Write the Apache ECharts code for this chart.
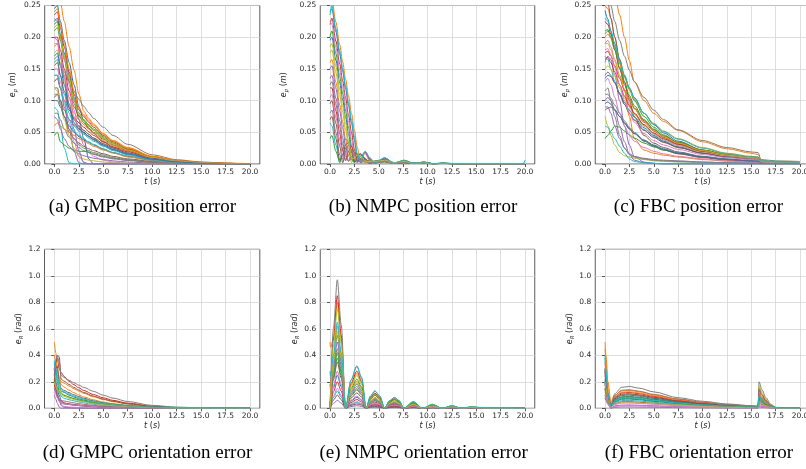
<!DOCTYPE html>
<html><head><meta charset="utf-8">
<script src="https://cdn.jsdelivr.net/npm/echarts@6/dist/echarts.min.js"></script>
<style>html,body{margin:0;padding:0;background:#fff}#c{width:806px;height:469px}</style>
</head><body><div id="c"></div><script>
const palette = ['#1f77b4','#ff7f0e','#2ca02c','#d62728','#9467bd','#8c564b','#e377c2','#7f7f7f','#bcbd22','#17becf'];
const xTickValues = [0,2.5,5,7.5,10,12.5,15,17.5,20];
const captions = ['(a) GMPC position error','(b) NMPC position error','(c) FBC position error','(d) GMPC orientation error','(e) NMPC orientation error','(f) FBC orientation error'];

// (a) GMPC position error
const tGmpcPos = [0,0.3,0.6,1,1.5,2,2.5,3,3.5,4,5,6,7.5,10,12.5,15,17.5,20];
const gmpcPosLines = [
[0.245,0.25,0.225,0.195,0.16,0.125,0.09,0.068,0.056,0.048,0.035,0.026,0.017,0.007,0.003,0.0012,0.0005,0.0001],
[0.27,0.275,0.255,0.225,0.185,0.148,0.11,0.083,0.072,0.063,0.048,0.037,0.026,0.012,0.0055,0.0025,0.001,0.0003],
[0.21,0.215,0.195,0.165,0.13,0.095,0.075,0.065,0.057,0.05,0.039,0.03,0.021,0.01,0.0045,0.002,0.0008,0.0002],
[0.2,0.2,0.18,0.15,0.115,0.09,0.076,0.068,0.06,0.053,0.041,0.032,0.022,0.0105,0.0048,0.0022,0.0009,0.0003],
[0.14,0.14,0.12,0.09,0.055,0.02,0.002,0,0,0,0,0,0,0,0,0,0,0],
[0.105,0.11,0.1,0.085,0.07,0.062,0.055,0.049,0.043,0.038,0.029,0.022,0.015,0.007,0.003,0.0014,0.0005,0.0001],
[0.23,0.225,0.2,0.165,0.125,0.085,0.05,0.03,0.018,0.012,0.006,0.003,0.001,0,0,0,0,0],
[0.165,0.17,0.158,0.145,0.13,0.115,0.102,0.091,0.081,0.072,0.058,0.045,0.031,0.0145,0.0068,0.0032,0.0014,0.0005],
[0.175,0.18,0.16,0.13,0.095,0.07,0.06,0.053,0.047,0.041,0.032,0.025,0.017,0.008,0.0036,0.0016,0.0006,0.0002],
[0.09,0.085,0.06,0.025,0.002,0,0,0,0,0,0,0,0,0,0,0,0,0],
[0.225,0.23,0.205,0.175,0.14,0.105,0.07,0.04,0.008,0,0,0,0,0,0,0,0,0],
[0.185,0.19,0.17,0.14,0.105,0.08,0.07,0.062,0.055,0.048,0.037,0.029,0.02,0.0095,0.0043,0.002,0.0008,0.0002],
[0.045,0.05,0.035,0.03,0.025,0.022,0.02,0.02,0.019,0.016,0.012,0.009,0.006,0.003,0.0013,0.0006,0.0002,0],
[0.13,0.135,0.12,0.1,0.085,0.073,0.065,0.058,0.051,0.045,0.035,0.027,0.019,0.009,0.004,0.0018,0.0007,0.0002],
[0.075,0.07,0.055,0.04,0.028,0.02,0.016,0.013,0.011,0.009,0.007,0.005,0.003,0.0015,0.0006,0.0002,0,0],
[0.12,0.12,0.1,0.075,0.05,0.04,0.033,0.028,0.024,0.021,0.016,0.012,0.008,0.004,0.0018,0.0008,0.0003,0],
[0.15,0.15,0.13,0.1,0.065,0.035,0.012,0.003,0,0,0,0,0,0,0,0,0,0],
[0.08,0.08,0.07,0.055,0.042,0.033,0.026,0.021,0.018,0.015,0.011,0.008,0.0055,0.0025,0.001,0.0004,0.0001,0],
[0.12,0.115,0.095,0.07,0.045,0.025,0.012,0.008,0.006,0.005,0.003,0.002,0.001,0,0,0,0,0],
[0.16,0.165,0.14,0.11,0.08,0.06,0.052,0.047,0.041,0.036,0.028,0.021,0.015,0.007,0.0031,0.0014,0.0005,0.0001],
[0.1,0.1,0.09,0.075,0.06,0.05,0.043,0.038,0.034,0.03,0.023,0.018,0.012,0.0055,0.0025,0.0011,0.0004,0.0001],
[0.06,0.065,0.06,0.055,0.05,0.045,0.04,0.036,0.032,0.028,0.022,0.017,0.011,0.005,0.0022,0.001,0.0004,0.0001],
[0.22,0.225,0.2,0.17,0.135,0.1,0.08,0.07,0.062,0.055,0.043,0.033,0.023,0.011,0.005,0.0022,0.0009,0.0002],
[0.235,0.24,0.215,0.185,0.145,0.11,0.085,0.075,0.066,0.058,0.045,0.035,0.024,0.0115,0.0052,0.0024,0.001,0.0003],
[0.2,0.195,0.17,0.135,0.095,0.055,0.02,0.002,0,0,0,0,0,0,0,0,0,0],
[0.155,0.16,0.14,0.115,0.088,0.07,0.06,0.053,0.047,0.041,0.032,0.025,0.017,0.008,0.0036,0.0016,0.0006,0.0002],
[0.19,0.19,0.17,0.14,0.105,0.075,0.058,0.05,0.044,0.039,0.03,0.023,0.016,0.0075,0.0034,0.0015,0.0006,0.0002],
[0.11,0.11,0.095,0.075,0.055,0.04,0.03,0.025,0.021,0.018,0.014,0.01,0.007,0.0032,0.0014,0.0006,0.0002,0],
[0.215,0.22,0.2,0.17,0.135,0.1,0.078,0.068,0.06,0.053,0.041,0.032,0.022,0.0105,0.0048,0.0022,0.0009,0.0003],
[0.14,0.14,0.12,0.095,0.07,0.052,0.045,0.04,0.035,0.031,0.024,0.018,0.013,0.006,0.0027,0.0012,0.0005,0.0001],
[0.17,0.175,0.155,0.125,0.09,0.065,0.056,0.05,0.044,0.039,0.03,0.023,0.016,0.0075,0.0034,0.0015,0.0006,0.0002],
[0.24,0.245,0.22,0.19,0.15,0.115,0.088,0.078,0.069,0.061,0.047,0.036,0.025,0.012,0.0054,0.0025,0.001,0.0003]
];

// (b) NMPC position error
const tNmpcPos = [0,0.2,0.6,1,1.3,1.6,1.9,2.2,2.5,2.8,3.1,3.6,4.1,4.6,5.6,6.6,7.6,8.6,9.6,10.6,11.6,13,15,17.5,19.8,20];
const nmpcPosLines = [
[0.24,0.245,0.209,0.173,0.146,0.119,0.092,0.065,0.038,0.011,0.006,0.019,0.008,0.001,0.009,0.001,0.005,0.001,0.003,0.0005,0.0012,0.0004,0.0003,0.0002,0.0002,0.0002],
[0.25,0.26,0.224,0.188,0.161,0.134,0.107,0.08,0.053,0.026,0.002,0.02,0.01,0.001,0.01,0.001,0.006,0.001,0.003,0.0005,0.0015,0.0005,0.0004,0.0003,0.0002,0.0002],
[0.2,0.21,0.174,0.138,0.111,0.084,0.057,0.03,0.003,0.012,0.016,0.009,0.001,0.004,0.007,0.002,0.005,0.001,0.002,0.0005,0.001,0.0003,0.0002,0.0002,0.0001,0.0001],
[0.22,0.23,0.194,0.158,0.131,0.104,0.077,0.05,0.023,0.002,0.012,0.018,0.006,0.001,0.009,0.001,0.005,0.001,0.003,0.0005,0.0012,0.0004,0.0003,0.0002,0.0001,0.0001],
[0.135,0.14,0.104,0.068,0.041,0.014,0.004,0.012,0.013,0.008,0.002,0.004,0.005,0.002,0.004,0.002,0.003,0.001,0.002,0.0005,0.001,0.0003,0.0002,0.0001,0.0001,0.0001],
[0.095,0.1,0.064,0.028,0.002,0.02,0.03,0.022,0.006,0.003,0.008,0.007,0.002,0.003,0.004,0.001,0.003,0.001,0.002,0.0004,0.001,0.0003,0.0002,0.0001,0.0001,0.0001],
[0.225,0.22,0.184,0.148,0.121,0.094,0.067,0.04,0.013,0.005,0.015,0.016,0.004,0.002,0.008,0.001,0.005,0.001,0.002,0.0005,0.001,0.0003,0.0002,0.0001,0.0001,0.0001],
[0.08,0.085,0.05,0.014,0.008,0.025,0.03,0.02,0.005,0.004,0.008,0.006,0.001,0.003,0.004,0.001,0.002,0.001,0.001,0.0003,0.0008,0.0002,0.0001,0.0001,0.0001,0.0001],
[0.175,0.18,0.144,0.108,0.081,0.054,0.027,0.002,0.012,0.016,0.01,0.003,0.005,0.004,0.005,0.002,0.004,0.001,0.002,0.0004,0.001,0.0003,0.0002,0.0001,0.0001,0.0001],
[0.065,0.06,0.03,0.002,0.025,0.04,0.035,0.015,0.002,0.008,0.012,0.006,0.001,0.004,0.004,0.001,0.003,0.001,0.002,0.0004,0.001,0.0003,0.0002,0.0002,0,0.006],
[0.195,0.2,0.164,0.128,0.101,0.074,0.047,0.02,0.003,0.014,0.016,0.008,0.001,0.005,0.007,0.002,0.005,0.001,0.002,0.0005,0.001,0.0003,0.0002,0.0002,0.0001,0.0001],
[0.16,0.165,0.129,0.093,0.066,0.039,0.012,0.006,0.014,0.015,0.008,0.002,0.005,0.004,0.006,0.002,0.004,0.001,0.002,0.0004,0.001,0.0003,0.0002,0.0001,0.0001,0.0001],
[0.04,0.045,0.02,0.003,0.015,0.025,0.02,0.008,0.002,0.006,0.008,0.004,0.001,0.003,0.003,0.001,0.002,0.001,0.001,0.0003,0.0007,0.0002,0.0001,0.0001,0.0001,0.0001],
[0.12,0.12,0.084,0.048,0.021,0.005,0.02,0.028,0.018,0.004,0.006,0.008,0.002,0.003,0.005,0.001,0.003,0.001,0.002,0.0004,0.001,0.0003,0.0002,0.0001,0.0001,0.0001],
[0.15,0.155,0.119,0.083,0.056,0.029,0.004,0.012,0.016,0.011,0.003,0.006,0.005,0.002,0.005,0.002,0.003,0.001,0.002,0.0004,0.001,0.0003,0.0002,0.0001,0.0001,0.0001],
[0.07,0.075,0.04,0.006,0.015,0.03,0.034,0.022,0.006,0.003,0.007,0.006,0.002,0.003,0.004,0.001,0.002,0.001,0.001,0.0003,0.0008,0.0002,0.0001,0.0001,0.0001,0.0001],
[0.105,0.11,0.074,0.038,0.011,0.012,0.025,0.022,0.01,0.002,0.006,0.006,0.002,0.003,0.004,0.001,0.003,0.001,0.002,0.0004,0.001,0.0003,0.0002,0.0001,0.0001,0.0001],
[0.125,0.13,0.094,0.058,0.031,0.006,0.014,0.02,0.014,0.004,0.004,0.007,0.003,0.002,0.004,0.002,0.003,0.001,0.002,0.0004,0.001,0.0003,0.0002,0.0001,0.0001,0.0001],
[0.185,0.19,0.154,0.118,0.091,0.064,0.037,0.01,0.008,0.015,0.013,0.004,0.004,0.004,0.006,0.002,0.004,0.001,0.002,0.0004,0.001,0.0003,0.0002,0.0001,0.0001,0.0001],
[0.235,0.25,0.214,0.178,0.151,0.124,0.097,0.07,0.043,0.016,0.004,0.02,0.009,0.001,0.01,0.001,0.006,0.001,0.003,0.0005,0.0015,0.0004,0.0003,0.0002,0.0001,0.0001]
];

// (c) FBC position error
const tFbcPos = [0,0.3,0.6,1,1.5,2,2.5,3,4,5,6,7.5,10,12.5,15,15.7,16,17.5,20];
const fbcPosLines = [
[0.242,0.228,0.21,0.185,0.16,0.138,0.12,0.105,0.08,0.062,0.049,0.036,0.022,0.014,0.009,0.0085,0.004,0.003,0.002],
[0.32,0.31,0.295,0.27,0.235,0.2,0.163,0.13,0.1,0.08,0.067,0.053,0.035,0.024,0.017,0.015,0.006,0.004,0.003],
[0.205,0.21,0.205,0.19,0.165,0.14,0.118,0.1,0.075,0.058,0.046,0.034,0.021,0.014,0.01,0.009,0.004,0.003,0.002],
[0.225,0.22,0.205,0.18,0.15,0.125,0.104,0.088,0.066,0.052,0.042,0.032,0.02,0.013,0.009,0.008,0.004,0.003,0.002],
[0.16,0.17,0.165,0.14,0.1,0.06,0.03,0.012,0.003,0.001,0,0,0,0,0,0,0,0,0],
[0.085,0.088,0.09,0.085,0.075,0.065,0.056,0.048,0.036,0.028,0.022,0.016,0.01,0.006,0.004,0.0035,0.002,0.0015,0.001],
[0.19,0.195,0.185,0.165,0.14,0.115,0.095,0.08,0.06,0.047,0.038,0.029,0.018,0.012,0.008,0.0075,0.0035,0.0025,0.0015],
[0.27,0.265,0.25,0.225,0.195,0.17,0.148,0.13,0.105,0.085,0.07,0.054,0.037,0.026,0.019,0.018,0.007,0.005,0.004],
[0.075,0.06,0.045,0.03,0.018,0.013,0.011,0.009,0.007,0.005,0.004,0.003,0.002,0.001,0.0007,0.0006,0.0003,0.0002,0.0001],
[0.17,0.165,0.15,0.13,0.11,0.094,0.08,0.07,0.054,0.043,0.035,0.026,0.017,0.011,0.0075,0.007,0.003,0.002,0.0015],
[0.135,0.14,0.138,0.128,0.112,0.097,0.085,0.074,0.057,0.045,0.036,0.027,0.017,0.011,0.0075,0.007,0.003,0.002,0.0015],
[0.25,0.245,0.23,0.2,0.16,0.115,0.075,0.04,0.022,0.017,0.014,0.011,0.007,0.0045,0.003,0.003,0.0015,0.001,0.0008],
[0.04,0.045,0.052,0.06,0.058,0.052,0.046,0.041,0.033,0.027,0.022,0.017,0.011,0.0075,0.005,0.0047,0.0025,0.0018,0.0012],
[0.175,0.178,0.17,0.155,0.135,0.117,0.101,0.088,0.068,0.054,0.044,0.034,0.022,0.015,0.011,0.01,0.004,0.003,0.002],
[0.1,0.105,0.1,0.085,0.06,0.035,0.015,0.006,0.002,0.001,0,0,0,0,0,0,0,0,0],
[0.28,0.255,0.23,0.2,0.165,0.13,0.1,0.075,0.045,0.033,0.026,0.019,0.012,0.008,0.005,0.0048,0.0025,0.0018,0.0012],
[0.13,0.135,0.125,0.105,0.08,0.06,0.045,0.036,0.026,0.02,0.016,0.012,0.008,0.005,0.0035,0.0033,0.0017,0.0012,0.0008],
[0.11,0.11,0.104,0.093,0.08,0.068,0.058,0.05,0.038,0.03,0.024,0.018,0.011,0.007,0.005,0.0047,0.0025,0.0018,0.0012],
[0.15,0.155,0.15,0.138,0.12,0.104,0.09,0.078,0.06,0.048,0.039,0.03,0.019,0.013,0.009,0.0085,0.0038,0.0028,0.0018],
[0.06,0.058,0.05,0.04,0.028,0.017,0.008,0.004,0.002,0.001,0,0,0,0,0,0,0,0,0],
[0.095,0.098,0.094,0.086,0.075,0.064,0.055,0.048,0.037,0.029,0.023,0.017,0.011,0.007,0.0048,0.0045,0.0022,0.0016,0.0011],
[0.2,0.205,0.198,0.182,0.158,0.136,0.117,0.102,0.08,0.064,0.052,0.04,0.026,0.017,0.012,0.011,0.0045,0.0033,0.0022],
[0.21,0.212,0.2,0.18,0.152,0.128,0.108,0.092,0.07,0.055,0.044,0.034,0.022,0.015,0.011,0.0105,0.0045,0.0033,0.0022],
[0.165,0.168,0.16,0.145,0.125,0.107,0.092,0.08,0.062,0.049,0.04,0.031,0.02,0.014,0.01,0.0095,0.004,0.003,0.002],
[0.09,0.09,0.08,0.06,0.04,0.025,0.016,0.012,0.009,0.007,0.006,0.005,0.003,0.002,0.0015,0.0014,0.0008,0.0006,0.0004],
[0.14,0.145,0.14,0.128,0.11,0.094,0.08,0.069,0.053,0.042,0.034,0.026,0.017,0.011,0.0075,0.007,0.003,0.002,0.0015],
[0.18,0.182,0.172,0.152,0.125,0.1,0.08,0.066,0.048,0.037,0.03,0.023,0.015,0.01,0.007,0.0066,0.003,0.002,0.0014],
[0.115,0.12,0.1,0.075,0.045,0.025,0.015,0.011,0.008,0.006,0.005,0.004,0.003,0.002,0.0014,0.0013,0.0007,0.0005,0.0003],
[0.19,0.19,0.18,0.162,0.138,0.118,0.101,0.087,0.067,0.053,0.043,0.033,0.021,0.014,0.01,0.0095,0.004,0.003,0.002],
[0.23,0.225,0.21,0.19,0.163,0.14,0.12,0.104,0.08,0.063,0.051,0.039,0.025,0.016,0.011,0.0105,0.0045,0.0033,0.0022]
];

// (d) GMPC orientation error
const tGmpcOri = [0,0.15,0.3,0.5,0.7,1,1.5,2,2.5,3,4,5,6,7.5,10,12.5,15,20];
const gmpcOriLines = [
[0.35,0.3,0.22,0.15,0.13,0.12,0.1,0.085,0.072,0.062,0.045,0.033,0.024,0.015,0.006,0.0025,0.001,0],
[0.5,0.42,0.3,0.24,0.2,0.19,0.168,0.148,0.13,0.114,0.087,0.066,0.05,0.032,0.013,0.0053,0.0021,0.0002],
[0.2,0.15,0.1,0.06,0.04,0.032,0.028,0.024,0.02,0.017,0.012,0.009,0.0065,0.004,0.0017,0.0007,0.0003,0],
[0.3,0.35,0.38,0.3,0.27,0.24,0.205,0.178,0.155,0.135,0.104,0.079,0.06,0.039,0.016,0.0065,0.0026,0.0003],
[0.1,0.07,0.04,0.01,0,0,0,0,0,0,0,0,0,0,0,0,0,0],
[0.25,0.35,0.4,0.39,0.22,0.205,0.18,0.158,0.138,0.12,0.092,0.07,0.053,0.034,0.014,0.0057,0.0023,0.0002],
[0.15,0.12,0.09,0.06,0.03,0.015,0.01,0.008,0.006,0.005,0.003,0.002,0.001,0,0,0,0,0],
[0.28,0.36,0.4,0.35,0.25,0.232,0.212,0.193,0.175,0.158,0.128,0.099,0.077,0.051,0.022,0.009,0.0037,0.0005],
[0.3,0.25,0.2,0.16,0.12,0.1,0.085,0.073,0.062,0.053,0.039,0.029,0.021,0.013,0.005,0.002,0.0008,0],
[0.33,0.28,0.2,0.12,0.09,0.075,0.065,0.056,0.048,0.041,0.03,0.022,0.016,0.01,0.004,0.0016,0.0006,0],
[0.22,0.18,0.14,0.1,0.06,0.04,0.03,0.025,0.021,0.018,0.013,0.01,0.007,0.0045,0.0018,0.0007,0.0003,0],
[0.4,0.35,0.28,0.22,0.18,0.16,0.138,0.118,0.1,0.086,0.064,0.047,0.035,0.022,0.009,0.0035,0.0014,0.0001],
[0.25,0.2,0.16,0.13,0.11,0.098,0.085,0.073,0.063,0.054,0.04,0.03,0.022,0.014,0.0055,0.0022,0.0009,0.0001],
[0.18,0.14,0.1,0.07,0.05,0.04,0.034,0.029,0.025,0.021,0.015,0.011,0.008,0.005,0.002,0.0008,0.0003,0],
[0.3,0.2,0.12,0.06,0.02,0.008,0.004,0.002,0.001,0,0,0,0,0,0,0,0,0],
[0.2,0.3,0.32,0.2,0.15,0.135,0.118,0.102,0.088,0.076,0.056,0.042,0.031,0.02,0.008,0.003,0.0012,0.0001],
[0.12,0.1,0.08,0.05,0.04,0.035,0.03,0.026,0.022,0.019,0.014,0.01,0.0075,0.0047,0.0019,0.0008,0.0003,0],
[0.15,0.12,0.09,0.07,0.06,0.055,0.048,0.041,0.035,0.03,0.022,0.016,0.012,0.0075,0.003,0.0012,0.0005,0],
[0.2,0.17,0.14,0.12,0.1,0.09,0.077,0.066,0.057,0.049,0.036,0.027,0.02,0.0125,0.005,0.002,0.0008,0],
[0.36,0.3,0.25,0.18,0.14,0.125,0.108,0.093,0.08,0.069,0.051,0.038,0.028,0.018,0.007,0.0028,0.0011,0.0001]
];

// (e) NMPC orientation error
const tNmpcOri = [0,0.05,0.35,0.75,1.15,1.6,2.15,2.75,3.25,3.7,4.15,4.6,5.1,5.6,6.1,6.6,7.1,7.55,8.55,9.5,10.5,11.5,12.5,13.5,14.5,16,20];
const nmpcOriLines = [
[0.18,0.15,0.341,0.55,0.358,0,0.121,0.182,0.132,0,0.052,0.074,0.052,0,0.033,0.047,0.033,0,0.028,0,0.017,0,0.011,0,0.006,0.001,0],
[0.5,0.46,0.52,0.8,0.52,0,0.176,0.264,0.192,0,0.076,0.108,0.076,0,0.048,0.068,0.048,0,0.04,0,0.024,0,0.016,0,0.009,0.002,0],
[0.05,0,0.26,0.42,0.273,0,0.092,0.139,0.101,0,0.04,0.057,0.04,0,0.025,0.036,0.025,0,0.021,0,0.013,0,0.008,0,0.005,0.001,0],
[0,0,0.527,0.85,0.553,0,0.187,0.281,0.204,0,0.081,0.115,0.081,0,0.051,0.072,0.051,0,0.043,0,0.026,0,0.017,0,0.009,0.002,0],
[0,0,0.037,0.06,0.039,0,0.013,0.02,0.014,0,0.006,0.008,0.006,0,0.004,0.005,0.004,0,0.003,0,0.002,0,0.001,0,0.001,0,0],
[0,0,0.217,0.35,0.228,0,0.077,0.116,0.084,0,0.033,0.047,0.033,0,0.021,0.03,0.021,0,0.018,0,0.011,0,0.007,0,0.004,0.001,0],
[0,0,0.093,0.15,0.098,0,0.033,0.05,0.036,0,0.014,0.02,0.014,0,0.009,0.013,0.009,0,0.008,0,0.005,0,0.003,0,0.002,0,0],
[0,0,0.601,0.97,0.631,0,0.213,0.32,0.233,0,0.092,0.131,0.092,0,0.058,0.082,0.058,0,0.049,0,0.029,0,0.019,0,0.011,0.002,0],
[0,0,0.465,0.75,0.488,0,0.165,0.248,0.18,0,0.071,0.101,0.071,0,0.045,0.064,0.045,0,0.038,0,0.023,0,0.015,0,0.008,0.002,0],
[0,0,0.081,0.13,0.085,0,0.029,0.043,0.031,0,0.012,0.018,0.012,0,0.008,0.011,0.008,0,0.007,0,0.004,0,0.003,0,0.001,0,0],
[0,0,0.155,0.25,0.163,0,0.055,0.083,0.06,0,0.024,0.034,0.024,0,0.015,0.021,0.015,0,0.013,0,0.008,0,0.005,0,0.003,0,0],
[0,0,0.384,0.62,0.403,0,0.136,0.205,0.149,0,0.059,0.084,0.059,0,0.037,0.053,0.037,0,0.031,0,0.019,0,0.012,0,0.007,0.001,0],
[0,0,0.236,0.38,0.247,0,0.15,0.22,0.16,0,0.07,0.1,0.07,0,0.045,0.065,0.045,0,0.04,0,0.024,0,0.015,0,0.008,0.002,0],
[0,0,0.124,0.2,0.13,0,0.044,0.066,0.048,0,0.019,0.027,0.019,0,0.012,0.017,0.012,0,0.01,0,0.006,0,0.004,0,0.002,0,0],
[0,0,0.31,0.5,0.325,0,0.11,0.165,0.12,0,0.048,0.068,0.048,0,0.03,0.043,0.03,0,0.025,0,0.015,0,0.01,0,0.006,0.001,0],
[0,0,0.062,0.1,0.065,0,0.022,0.033,0.024,0,0.01,0.014,0.01,0,0.006,0.009,0.006,0,0.005,0,0.003,0,0.002,0,0.001,0,0],
[0,0,0.174,0.28,0.182,0,0.062,0.092,0.067,0,0.027,0.038,0.027,0,0.017,0.024,0.017,0,0.014,0,0.008,0,0.006,0,0.003,0,0],
[0,0,0.279,0.45,0.293,0,0.099,0.149,0.108,0,0.043,0.061,0.043,0,0.027,0.038,0.027,0,0.023,0,0.014,0,0.009,0,0.005,0.001,0],
[0,0,0.36,0.58,0.377,0,0.128,0.191,0.139,0,0.055,0.078,0.055,0,0.035,0.049,0.035,0,0.029,0,0.017,0,0.012,0,0.006,0.001,0],
[0.28,0.24,0.4,0.65,0.42,0,0.21,0.315,0.225,0,0.092,0.132,0.092,0,0.056,0.082,0.056,0,0.051,0,0.031,0,0.02,0,0.012,0.002,0]
];

// (f) FBC orientation error
const tFbcOri = [0,0.1,0.3,0.6,1,1.7,2.5,3.5,5,7.5,10,12.5,15,15.7,15.8,16.1,16.5,17,17.5,18,20];
const fbcOriLines = [
[0.3,0.2,0.08,0.02,0.048,0.068,0.07,0.064,0.052,0.035,0.023,0.014,0.008,0.007,0.05,0.035,0.02,0.008,0.002,0,0],
[0.5,0.4,0.2,0.05,0.095,0.131,0.135,0.124,0.101,0.068,0.045,0.027,0.016,0.0135,0.12,0.084,0.048,0.018,0.005,0.001,0],
[0.1,0.08,0.04,0.01,0.063,0.087,0.09,0.083,0.068,0.045,0.03,0.018,0.011,0.009,0.08,0.056,0.032,0.012,0.003,0.001,0],
[0.25,0.2,0.1,0.02,0.084,0.116,0.12,0.11,0.09,0.06,0.04,0.024,0.014,0.012,0.1,0.07,0.04,0.015,0.004,0.001,0],
[0.2,0.15,0.05,0,0.018,0.024,0.025,0.023,0.019,0.013,0.008,0.005,0.003,0.0025,0.02,0.014,0.008,0.003,0.001,0,0],
[0.15,0.12,0.05,0.01,0.035,0.049,0.05,0.046,0.038,0.025,0.017,0.01,0.006,0.005,0.04,0.028,0.016,0.006,0.002,0,0],
[0.35,0.25,0.1,0.01,0.028,0.039,0.04,0.037,0.03,0.02,0.013,0.008,0.005,0.004,0.03,0.021,0.012,0.005,0.001,0,0],
[0.2,0.15,0.06,0.03,0.11,0.158,0.165,0.152,0.124,0.08,0.053,0.033,0.02,0.017,0.2,0.14,0.08,0.03,0.008,0.002,0],
[0.12,0.1,0.05,0.015,0.074,0.102,0.105,0.097,0.079,0.053,0.035,0.021,0.013,0.011,0.17,0.12,0.068,0.026,0.007,0.002,0],
[0.4,0.3,0.12,0.02,0.042,0.058,0.06,0.055,0.045,0.03,0.02,0.012,0.007,0.006,0.1,0.07,0.04,0.015,0.004,0.001,0],
[0.22,0.17,0.07,0.015,0.07,0.097,0.1,0.092,0.075,0.05,0.033,0.02,0.012,0.01,0.09,0.063,0.036,0.014,0.004,0.001,0],
[0.45,0.35,0.15,0.03,0.088,0.121,0.125,0.115,0.094,0.063,0.041,0.025,0.015,0.0125,0.11,0.077,0.044,0.017,0.004,0.001,0],
[0.08,0.06,0.03,0.01,0.053,0.073,0.075,0.069,0.056,0.038,0.025,0.015,0.009,0.0075,0.06,0.042,0.024,0.009,0.002,0,0],
[0.28,0.22,0.1,0.02,0.077,0.107,0.11,0.101,0.083,0.055,0.036,0.022,0.013,0.011,0.14,0.098,0.056,0.021,0.006,0.001,0],
[0.15,0.1,0.03,0,0.007,0.01,0.01,0.009,0.008,0.005,0.003,0.002,0.001,0.001,0.01,0.007,0.004,0.002,0,0,0],
[0.18,0.14,0.06,0.015,0.06,0.082,0.085,0.078,0.064,0.043,0.028,0.017,0.01,0.0085,0.07,0.049,0.028,0.011,0.003,0.001,0],
[0.1,0.08,0.03,0,0.014,0.019,0.02,0.018,0.015,0.01,0.007,0.004,0.002,0.002,0.015,0.011,0.006,0.002,0.001,0,0],
[0.3,0.22,0.1,0.02,0.098,0.136,0.14,0.129,0.105,0.07,0.046,0.028,0.017,0.014,0.15,0.105,0.06,0.023,0.006,0.001,0],
[0.2,0.15,0.06,0.01,0.032,0.044,0.045,0.041,0.034,0.023,0.015,0.009,0.005,0.0045,0.05,0.035,0.02,0.008,0.002,0,0],
[0.38,0.28,0.1,0.01,0.056,0.078,0.08,0.074,0.06,0.04,0.026,0.016,0.01,0.008,0.09,0.063,0.036,0.014,0.004,0.001,0]
];

const panelData = [
  [tGmpcPos, gmpcPosLines], [tNmpcPos, nmpcPosLines], [tFbcPos, fbcPosLines],
  [tGmpcOri, gmpcOriLines], [tNmpcOri, nmpcOriLines], [tFbcOri, fbcOriLines]
];

// layout (pixels)
const layout = [
  {left:44.7, top:5.5, width:215.1, height:158.5, ygap:25.7, cap:[142.5,207]},
  {left:320.25, top:5.5, width:214.5, height:158.5, ygap:30.2, cap:[423,207]},
  {left:595.25, top:5.5, width:214.5, height:158.5, ygap:24.2, cap:[698.5,207]},
  {left:44.5, top:249.3, width:215.3, height:159, ygap:14.5, cap:[147.5,453]},
  {left:320.25, top:249.3, width:214.5, height:159, ygap:18.5, cap:[423.7,453]},
  {left:595.25, top:249.3, width:214.5, height:159, ygap:19.2, cap:[699,453]}
];

const FONT = 'DejaVu Sans';
const TXT = '#262626';
const richBase = {
  i: {fontStyle:'italic', fontSize:8, fontFamily:FONT, color:TXT, verticalAlign:'top', lineHeight:10},
  n: {fontSize:8, fontFamily:FONT, color:TXT, verticalAlign:'top', lineHeight:10},
  s: {fontStyle:'italic', fontSize:5.5, fontFamily:FONT, color:TXT, verticalAlign:'bottom', lineHeight:6}
};

const grids = [], xAxes = [], yAxes = [], series = [], graphics = [];
layout.forEach((L, p) => {
  const isPos = p < 3;
  grids.push({left:L.left, top:L.top, width:L.width, height:L.height, show:true,
    borderColor:'#333', borderWidth:0.8, backgroundColor:'transparent', containLabel:false, outerBoundsMode:'none'});
  xAxes.push({gridIndex:p, type:'value', min:-1, max:21, minInterval:2.5, maxInterval:2.5,
    axisLine:{show:false},
    axisTick:{show:true, length:3, customValues:xTickValues, lineStyle:{color:'#333', width:0.8}},
    axisLabel:{customValues:xTickValues, formatter:v=>v.toFixed(1), fontSize:7.5, fontFamily:FONT, color:TXT, margin:4},
    splitLine:{show:true, lineStyle:{color:'#d6d6d6', width:0.8}},
    name:'{i|t}{n| (}{i|s}{n|)}', nameLocation:'middle', nameGap:13.5,
    nameTextStyle:{fontFamily:FONT, fontSize:8, color:TXT, rich:richBase}});
  yAxes.push({gridIndex:p, type:'value', min:0, max:isPos?0.25:1.2, interval:isPos?0.05:0.2,
    axisLine:{show:false},
    axisTick:{show:true, length:3, lineStyle:{color:'#333', width:0.8}},
    axisLabel:{formatter:v=>v.toFixed(isPos?2:1), fontSize:7.5, fontFamily:FONT, color:TXT, margin:4},
    splitLine:{show:true, lineStyle:{color:'#d6d6d6', width:0.8}},
    name: isPos ? '{i|e}{s|p}{n| (}{i|m}{n|)}' : '{i|e}{s|R}{n| (}{i|rad}{n|)}',
    nameLocation:'middle', nameGap:L.ygap,
    nameTextStyle:{fontFamily:FONT, fontSize:8, color:TXT, rich:richBase}});
  const [ts, lines] = panelData[p];
  lines.forEach((vals, j) => {
    const data = [];
    ts.forEach((t, k) => { if (vals[k] !== undefined) data.push([t, vals[k]]); });
    series.push({type:'line', xAxisIndex:p, yAxisIndex:p, data, showSymbol:false, symbol:'none',
      smooth:0.3, smoothMonotone:'x', clip:true, silent:true,
      lineStyle:{width:1, color:palette[j%10]}, itemStyle:{color:palette[j%10]}});
  });
  graphics.push({type:'text', x:L.cap[0], y:L.cap[1],
    style:{text:captions[p], font:'19px "Liberation Serif"', fontSize:19, fontFamily:'Liberation Serif', fill:'#000', align:'center', verticalAlign:'middle'}});
});

const chart = echarts.init(document.getElementById('c'), null, {renderer:'canvas'});
chart.setOption({
  animation:false, backgroundColor:'#fff',
  grid:grids, xAxis:xAxes, yAxis:yAxes, series, graphic:graphics
});
</script></body></html>
